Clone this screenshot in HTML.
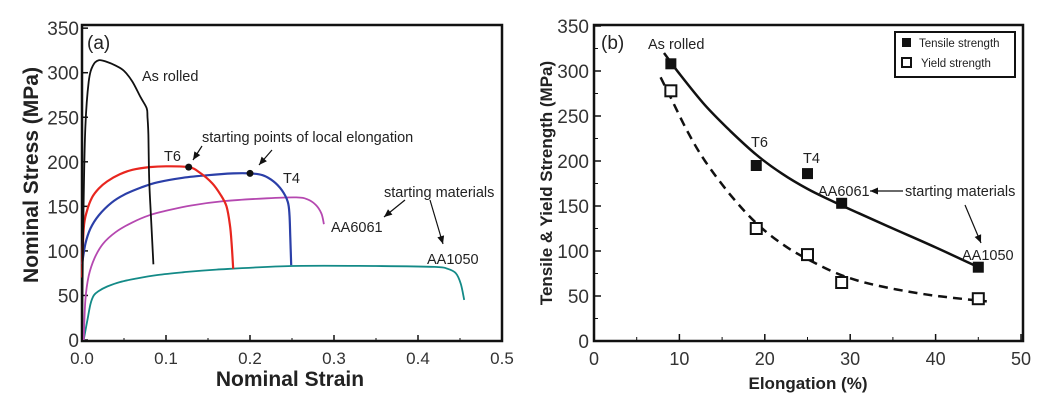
<!DOCTYPE html>
<html><head><meta charset="utf-8"><style>
body{margin:0;background:#fff;width:1060px;height:404px;overflow:hidden}
svg{font-family:"Liberation Sans",sans-serif}
</style></head><body>
<svg id="svg" width="1060" height="404" viewBox="0 0 1060 404"></svg>
<script>
// ---- Panel (a) data ----
const aXTicks=[0,0.1,0.2,0.3,0.4,0.5];
const aXTickLabels=["0.0","0.1","0.2","0.3","0.4","0.5"];
const aYTicks=[0,50,100,150,200,250,300,350];
const asRolledX=[0,0.001,0.002,0.004,0.008,0.013,0.02,0.03,0.04,0.05,0.06,0.07,0.077,0.078,0.079,0.08,0.082,0.085];
const asRolledY=[0,90,160,240,290,308,314,312,308,302,290,272,260,250,230,180,140,85];
const t6X=[0,0.002,0.006,0.012,0.02,0.03,0.045,0.06,0.08,0.1,0.127,0.14,0.155,0.165,0.172,0.176,0.178,0.18];
const t6Y=[70,125,145,160,170,178,186,191,194,195,194,188,176,163,150,130,110,80];
const t4X=[0,0.004,0.01,0.02,0.035,0.05,0.07,0.09,0.12,0.15,0.18,0.2,0.215,0.228,0.238,0.245,0.247,0.248,0.249];
const t4Y=[85,108,125,140,154,163,171,177,182,185,187,187,185,178,168,155,140,115,84];
const aa6061X=[0.002,0.004,0.008,0.015,0.025,0.04,0.06,0.08,0.1,0.13,0.17,0.22,0.255,0.268,0.278,0.285,0.288];
const aa6061Y=[0,45,72,92,108,121,132,140,145,151,156,159,160,158,152,142,130];
const aa1050X=[0.002,0.006,0.01,0.014,0.02,0.03,0.045,0.065,0.09,0.12,0.16,0.25,0.35,0.42,0.435,0.445,0.451,0.455];
const aa1050Y=[0,20,40,50,55,60,65,69,73,76,79,83,83,82,80,75,63,45];
const markX=[0.127,0.2];
const markY=[194,187];
// ---- Panel (b) data ----
const bXTicks=[0,10,20,30,40,50];
const bYTicks=[0,50,100,150,200,250,300,350];
const elong=[9,19,25,29,45];
const tensile=[308,195,186,153,82];
const yieldS=[278,125,96,65,47];
const fitTX=[8.2,10,13,16,19,22,25,28,31,35,40,45];
const fitTY=[320,297,262,233,207,186,169,155,142,125,104,82];
const fitYX=[7.8,9,11,13,16,19,22,25,29,33,38,42,46];
const fitYY=[293,270,232,200,162,131,108,91,73,62,53,48,44];

const NS="http://www.w3.org/2000/svg";
const svg=document.getElementById('svg');
function el(t,a,p){const e=document.createElementNS(NS,t);for(const k in a)e.setAttribute(k,a[k]);(p||svg).appendChild(e);return e;}
function txt(s,a,p){const e=el('text',a,p);e.textContent=s;return e;}

const ax=v=>82+v*840, ay=v=>340-v*0.891;
const bx=v=>594+v*8.54, by=v=>341-v*0.9;

// Panel (a)
let r=el('rect',{x:82,y:25,width:420,height:316,fill:'none',stroke:'#111','stroke-width':2.5});

aXTicks.forEach((v,i)=>{el('line',{x1:ax(v),x2:ax(v),y1:341,y2:335,stroke:'#111','stroke-width':1.5});
 if(i<aXTicks.length-1)el('line',{x1:ax(v+0.05),x2:ax(v+0.05),y1:341,y2:338,stroke:'#111'});
 let t=txt(aXTickLabels[i],{x:ax(v),y:364,'font-size':17,'text-anchor':'middle',fill:'#333'});
 });
aYTicks.forEach(v=>{el('line',{x1:82,x2:88,y1:ay(v),y2:ay(v),stroke:'#111','stroke-width':1.5});
 let t=txt(String(v),{x:79,y:ay(v)+7,'font-size':19,'text-anchor':'end',fill:'#333'});
 });
let t=txt('Nominal Strain',{x:290,y:386,'font-size':21,'font-weight':'bold','text-anchor':'middle',fill:'#222'});

t=txt('Nominal Stress (MPa)',{x:0,y:0,'font-size':21,'font-weight':'bold','text-anchor':'middle',fill:'#222',transform:'translate(38,175) rotate(-90)'});

t=txt('(a)',{x:87,y:49,'font-size':19,fill:'#222'});

function line(X,Y,fx,fy,col,w,name,dash){
 const P=X.map((x,i)=>[fx(x),fy(Y[i])]);
 let d='M'+P[0][0].toFixed(1)+','+P[0][1].toFixed(1);
 for(let i=0;i<P.length-1;i++){const p0=P[i-1]||P[i],p1=P[i],p2=P[i+1],p3=P[i+2]||p2;
  const c1=[p1[0]+(p2[0]-p0[0])/6,p1[1]+(p2[1]-p0[1])/6],c2=[p2[0]-(p3[0]-p1[0])/6,p2[1]-(p3[1]-p1[1])/6];
  d+='C'+c1.map(v=>v.toFixed(1)).join(',')+' '+c2.map(v=>v.toFixed(1)).join(',')+' '+p2.map(v=>v.toFixed(1)).join(',');}
 const p=el('path',{d:d,fill:'none',stroke:col,'stroke-width':w,'stroke-linejoin':'round'});if(dash)p.setAttribute('stroke-dasharray',dash);
 }
line(aa1050X,aa1050Y,ax,ay,'#138a87',1.8,'aa1050-curve');
line(aa6061X,aa6061Y,ax,ay,'#b548b0',1.8,'aa6061-curve');
line(t4X,t4Y,ax,ay,'#2b3fa8',2.2,'t4-curve');
line(t6X,t6Y,ax,ay,'#e8261f',2.2,'t6-curve');
line(asRolledX,asRolledY,ax,ay,'#111',1.8,'as-rolled-curve');
markX.forEach((x,i)=>{const c=el('circle',{cx:ax(x),cy:ay(markY[i]),r:3.5,fill:'#111'});
 });
function arrow(x1,y1,x2,y2,name){const g=el('g',{});
 el('line',{x1:x1,y1:y1,x2:x2,y2:y2,stroke:'#111','stroke-width':1.2},g);
 const a=Math.atan2(y2-y1,x2-x1),L=8,W=3.5;
 el('polygon',{points:`${x2},${y2} ${x2-L*Math.cos(a)+W*Math.sin(a)},${y2-L*Math.sin(a)-W*Math.cos(a)} ${x2-L*Math.cos(a)-W*Math.sin(a)},${y2-L*Math.sin(a)+W*Math.cos(a)}`,fill:'#111'},g);}
const labs=[['As rolled',142,81,'as-rolled-label'],['starting points of local elongation',202,142,'local-elongation-label'],['T6',164,161,'t6-label'],['T4',283,183,'t4-label'],['starting materials',384,197,'starting-materials-label-a'],['AA6061',331,232,'aa6061-label'],['AA1050',427,264,'aa1050-label']];
labs.forEach(l=>{const e=txt(l[0],{x:l[1],y:l[2],'font-size':14.5,fill:'#222'});});
arrow(202,146,193,160,'arrow-t6-point');arrow(272,150,259,165,'arrow-t4-point');
arrow(405,200,384,217,'arrow-aa6061');arrow(430,200,443,244,'arrow-aa1050');

// Panel (b)
r=el('rect',{x:594,y:25,width:429,height:316,fill:'none',stroke:'#111','stroke-width':2.5});

bXTicks.forEach((v,i)=>{el('line',{x1:bx(v),x2:bx(v),y1:341,y2:334,stroke:'#111','stroke-width':1.5});
 if(i<bXTicks.length-1)el('line',{x1:bx(v+5),x2:bx(v+5),y1:341,y2:337,stroke:'#111'});
 let t=txt(String(v),{x:bx(v),y:365,'font-size':18,'text-anchor':'middle',fill:'#333'});
 });
bYTicks.forEach((v,i)=>{el('line',{x1:594,x2:601,y1:by(v),y2:by(v),stroke:'#111','stroke-width':1.5});
 if(i<bYTicks.length-1)el('line',{x1:594,x2:598,y1:by(v+25),y2:by(v+25),stroke:'#111'});
 let t=txt(String(v),{x:589,y:by(v)+7,'font-size':19,'text-anchor':'end',fill:'#333'});
 });
t=txt('Elongation (%)',{x:808,y:389,'font-size':17,'font-weight':'bold','text-anchor':'middle',fill:'#222'});

t=txt('Tensile & Yield Strength (MPa)',{x:0,y:0,'font-size':17,'font-weight':'bold','text-anchor':'middle',fill:'#222',transform:'translate(552,183) rotate(-90)'});

t=txt('(b)',{x:601,y:49,'font-size':19,fill:'#222'});

line(fitTX,fitTY,bx,by,'#111',2.5,'tensile-fit-line');
line(fitYX,fitYY,bx,by,'#111',2.5,'yield-fit-line','9,6');
elong.forEach((x,i)=>{const s=el('rect',{x:bx(x)-5.5,y:by(tensile[i])-5.5,width:11,height:11,fill:'#111'});
 
 const o=el('rect',{x:bx(x)-5.5,y:by(yieldS[i])-5.5,width:11,height:11,fill:'#fff',stroke:'#111','stroke-width':2});
 });
const g=el('g',{});
el('rect',{x:895,y:32,width:120,height:45,fill:'#fff',stroke:'#111','stroke-width':2},g);
el('rect',{x:902,y:38,width:9,height:9,fill:'#111'},g);
el('rect',{x:902,y:58,width:9,height:9,fill:'#fff',stroke:'#111','stroke-width':2},g);
txt('Tensile strength',{x:919,y:47,'font-size':11.5,fill:'#222'},g);
txt('Yield strength',{x:921,y:67,'font-size':11.5,fill:'#222'},g);
const labs2=[['As rolled',648,49,'b-as-rolled-label'],['T6',751,147,'b-t6-label'],['T4',803,163,'b-t4-label'],['AA6061',818,196,'b-aa6061-label'],['starting materials',905,196,'b-starting-materials-label'],['AA1050',962,260,'b-aa1050-label']];
labs2.forEach(l=>{const e=txt(l[0],{x:l[1],y:l[2],'font-size':14.5,fill:'#222'});});
arrow(903,191,870,191,'arrow-b-aa6061');arrow(965,205,981,243,'arrow-b-aa1050');
</script>
</body></html>
